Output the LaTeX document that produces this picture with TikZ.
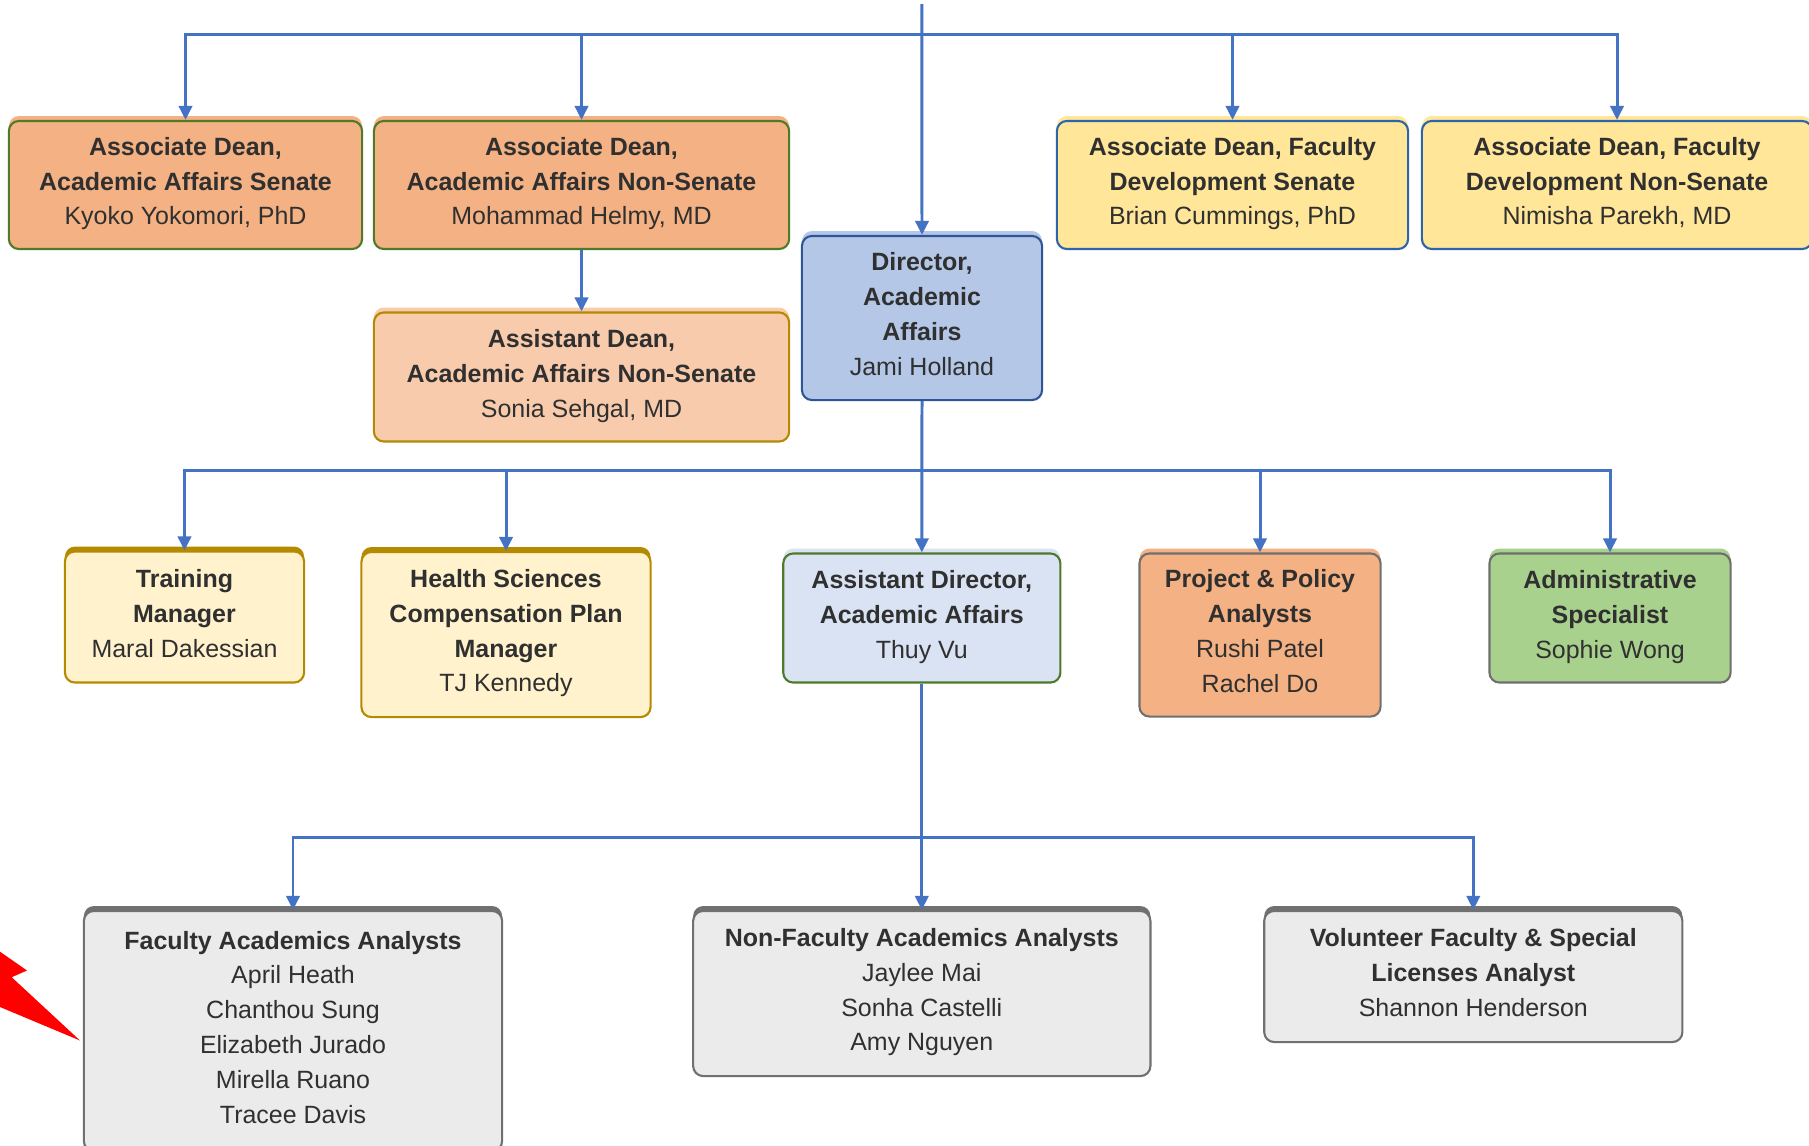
\documentclass[tikz,border=0pt]{standalone}
\usepackage{fontspec}
\setmainfont{Liberation Sans}
\usetikzlibrary{arrows.meta}

\definecolor{txt}{HTML}{303030}
\definecolor{lnk}{HTML}{4472C4}
\definecolor{org}{HTML}{F4B183}
\definecolor{pch}{HTML}{F8CBAD}
\definecolor{blu}{HTML}{B4C7E7}
\definecolor{lblu}{HTML}{DAE3F3}
\definecolor{ylw}{HTML}{FFE699}
\definecolor{cream}{HTML}{FFF2CC}
\definecolor{lgrn}{HTML}{A9D18E}
\definecolor{lgry}{HTML}{EBEBEB}
\definecolor{grn}{HTML}{4E7A2A}
\definecolor{gld}{HTML}{B38A00}
\definecolor{dblu}{HTML}{2F5597}
\definecolor{mblu}{HTML}{2E64A8}
\definecolor{gry}{HTML}{6F6F6F}
\definecolor{dgry}{HTML}{707070}

\tikzset{
  box/.style={draw, rounded corners=1mm, line width=0.6pt, align=center,
    inner sep=0pt, text depth=2.2pt, text=txt, font=\fontsize{7.1}{9.9}\selectfont},
  rim/.style={preaction={fill=#1, transform canvas={yshift=1.4pt}}},
  link/.style={draw=lnk, line width=0.85pt, -{Triangle[length=4pt,width=3.8pt]}}
}

\begin{document}
\begin{tikzpicture}[x=0.01cm, y=-0.01cm]
		\useasboundingbox (0,0) rectangle (1809,1145);
		%%Top row
		\node[box, fill=org, draw=grn, rim=org, minimum width=3.53cm, minimum height=1.28cm] (adsen) at (185.5,185)
			{\textbf{Associate Dean,}\\\textbf{Academic Affairs Senate}\\Kyoko Yokomori, PhD};
		\node[box, fill=org, draw=grn, rim=org, minimum width=4.15cm, minimum height=1.28cm] (adnon) at (581.5,185)
			{\textbf{Associate Dean,}\\\textbf{Academic Affairs Non-Senate}\\Mohammad Helmy, MD};
		\node[box, fill=pch, draw=gld, rim=pch, minimum width=4.15cm, minimum height=1.29cm] (asdean) at (581.5,377)
			{\textbf{Assistant Dean,}\\\textbf{Academic Affairs Non-Senate}\\Sonia Sehgal, MD};
		\node[box, fill=blu, draw=dblu, rim=blu, minimum width=2.40cm, minimum height=1.64cm] (dir) at (922,318)
			{\textbf{Director,}\\\textbf{Academic}\\\textbf{Affairs}\\Jami Holland};
		\node[box, fill=ylw, draw=mblu, rim=ylw, minimum width=3.51cm, minimum height=1.28cm] (fdsen) at (1232.5,185)
			{\textbf{Associate Dean, Faculty}\\\textbf{Development Senate}\\Brian Cummings, PhD};
		\node[box, fill=ylw, draw=mblu, rim=ylw, minimum width=3.90cm, minimum height=1.28cm] (fdnon) at (1617,185)
			{\textbf{Associate Dean, Faculty}\\\textbf{Development Non-Senate}\\Nimisha Parekh, MD};
		
		%%Middle row
		\node[box, fill=cream, draw=gld, rim=gld, minimum width=2.39cm, minimum height=1.31cm] (train) at (184.5,617)
			{\textbf{Training}\\\textbf{Manager}\\Maral Dakessian};
		\node[box, fill=cream, draw=gld, rim=gld, minimum width=2.89cm, minimum height=1.65cm] (hscomp) at (506,634.5)
			{\textbf{Health Sciences}\\\textbf{Compensation Plan}\\\textbf{Manager}\\TJ Kennedy};
		\node[box, fill=lblu, draw=grn, rim=lblu, minimum width=2.77cm, minimum height=1.29cm] (asdir) at (921.8,618)
			{\textbf{Assistant Director,}\\\textbf{Academic Affairs}\\Thuy Vu};
		\node[box, fill=org, draw=gry, rim=org, minimum width=2.41cm, minimum height=1.63cm] (ppa) at (1260,635)
			{\textbf{Project \& Policy}\\\textbf{Analysts}\\Rushi Patel\\Rachel Do};
		\node[box, fill=lgrn, draw=gry, rim=lgrn, minimum width=2.41cm, minimum height=1.29cm] (admin) at (1610,618)
			{\textbf{Administrative}\\\textbf{Specialist}\\Sophie Wong};
		
		%%Bottom row
		\node[box, fill=lgry, draw=dgry, rim=dgry, minimum width=4.18cm, minimum height=2.40cm] (faa) at (293,1031)
			{\textbf{Faculty Academics Analysts}\\April Heath\\Chanthou Sung\\Elizabeth Jurado\\Mirella Ruano\\Tracee Davis};
		\node[box, fill=lgry, draw=dgry, rim=dgry, minimum width=4.57cm, minimum height=1.65cm] (nfaa) at (921.8,993.5)
			{\textbf{Non-Faculty Academics Analysts}\\Jaylee Mai\\Sonha Castelli\\Amy Nguyen};
		\node[box, fill=lgry, draw=dgry, rim=dgry, minimum width=4.18cm, minimum height=1.31cm] (vol) at (1473.3,976.5)
			{\textbf{Volunteer Faculty \& Special}\\\textbf{Licenses Analyst}\\Shannon Henderson};
		
		%%Connectors
		\coordinate (src) at (921.8,4);
		\coordinate (bus1) at (921.8,34.6);
		\coordinate (bus2) at (921.8,470.7);
		\coordinate (bus3) at (921.8,837.6);
		\draw[link] (src) -- (dir.north);
		\draw[link] (bus1) -| (adsen.north);
		\draw[link] (bus1) -| (adnon.north);
		\draw[link] (bus1) -| (fdsen.north);
		\draw[link] (bus1) -| (fdnon.north);
		\draw[link] (adnon.south) -- (asdean.north);
		\draw[link] (dir.south) -- (asdir.north);
		\draw[link] (bus2) -| (train.north);
		\draw[link] (bus2) -| (hscomp.north);
		\draw[link] (bus2) -| (ppa.north);
		\draw[link] (bus2) -| (admin.north);
		\draw[link] (asdir.south) -- (nfaa.north);
		\draw[link] (bus3) -| (faa.north);
		\draw[link] (bus3) -| (vol.north);
		
		%%Pointer
		\fill[red] (0,951.7) -- (27,970.5) -- (11.7,977.2) -- (80,1040.5) -- (0,1007) -- cycle;
\end{tikzpicture}
\end{document}
